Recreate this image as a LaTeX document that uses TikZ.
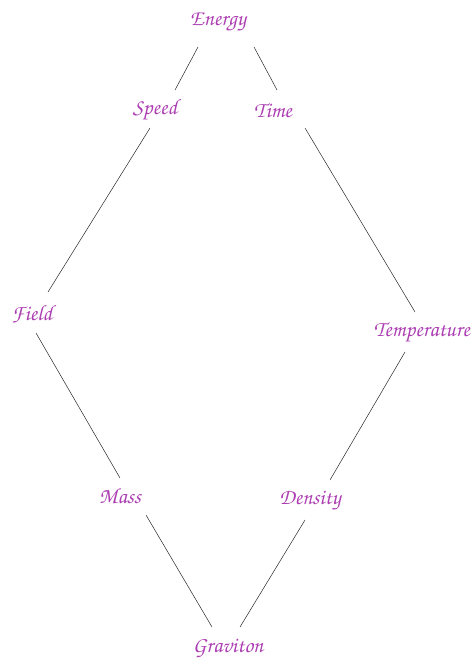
\documentclass[tikz,border=0pt]{standalone}
\usepackage[T1]{fontenc}
\definecolor{lbl}{RGB}{172,62,178}
\tikzset{
  lab/.style={text=lbl, font=\fontfamily{pzc}\fontseries{m}\fontshape{it}\fontsize{22}{24}\selectfont, inner sep=0pt},
  link/.style={draw=black!85, line width=0.5pt}
}
\begin{document}
\begin{tikzpicture}[x=1pt,y=-1pt]
\useasboundingbox (0,0) rectangle (471,660);
\node[lab] (energy) at (218,22) {Energy};
\node[lab] (speed) at (155,110) {Speed};
\node[lab] (time) at (273,110) {Time};
\node[lab] (field) at (32,314) {Field};
\node[lab,anchor=east] (temp) at (470,333) {Temperature};
\node[lab] (mass) at (120,496) {Mass};
\node[lab] (density) at (310,501) {Density};
\node[lab] (graviton) at (228,648) {Graviton};
\coordinate (tc) at (432,333);
\draw[link] ([shift={(-20,25)}]energy.center) -- ([shift={(20,-20)}]speed.center);
\draw[link] ([shift={(36,25)}]energy.center) -- ([shift={(4,-20)}]time.center);
\draw[link] ([shift={(-5,18)}]speed.center) -- ([shift={(16,-22)}]field.center);
\draw[link] ([shift={(32,18)}]time.center) -- ([shift={(-17,-21)}]tc);
\draw[link] ([shift={(4,19)}]field.center) -- ([shift={(0,-18)}]mass.center);
\draw[link] ([shift={(-27,19)}]tc) -- ([shift={(20,-21)}]density.center);
\draw[link] ([shift={(26,19)}]mass.center) -- ([shift={(-16,-21)}]graviton.center);
\draw[link] ([shift={(-5,19)}]density.center) -- ([shift={(12,-21)}]graviton.center);
\end{tikzpicture}
\end{document}
